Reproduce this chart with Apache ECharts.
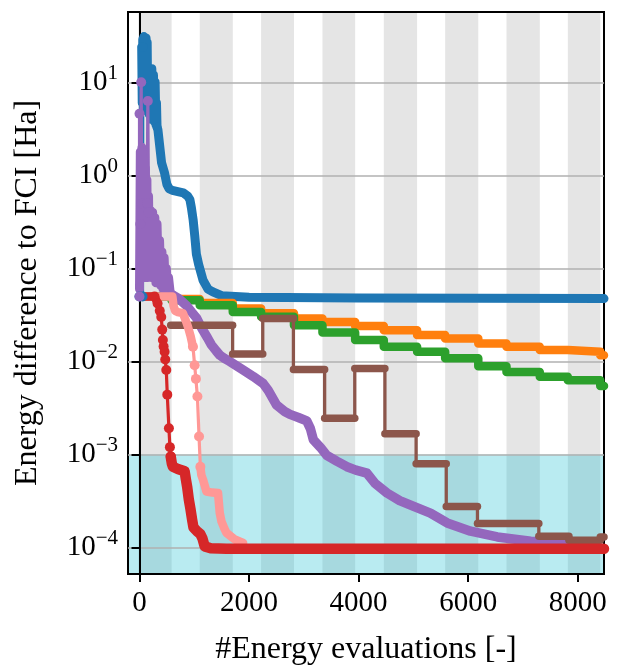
<!DOCTYPE html>
<html>
<head>
<meta charset="utf-8">
<script src="https://cdn.jsdelivr.net/npm/echarts@6/dist/echarts.min.js"></script>
<style>
  html, body { margin: 0; padding: 0; background: #fff; }
  #chart { width: 617px; height: 666px; }
</style>
</head>
<body>
<div id="chart"></div>
<script>
// axis ticks
const xTicks = [0, 2000, 4000, 6000, 8000];
const yTicks = [1e-4, 1e-3, 1e-2, 1e-1, 1, 10];
const threshold = 1e-3;

// gray stripes
const bandStarts = [-20, 1100, 2220, 3340, 4460, 5580, 6700, 7820];
const bandEnds = [586, 1703, 2820, 3937, 5068, 6185, 7308, 8412];

// blue run
const blueRise = [[0, 0.05], [55, 0.05], [60, 24]];
const blueBurst = [[40, 24], [50, 6], [60, 29], [70, 5], [80, 31], [90, 7], [100, 28], [110, 5], [120, 30],
  [130, 6], [140, 27], [150, 5], [165, 14], [180, 4.5], [195, 13], [210, 4], [225, 14], [240, 4], [255, 12],
  [270, 3.8], [285, 10], [300, 3.5], [310, 6], [320, 3.3]];
const blueTail = [[320, 3.3], [336, 3.1], [403, 1.37], [458, 1.06], [500, 0.8], [540, 0.72], [600, 0.69],
  [700, 0.67], [800, 0.65], [880, 0.6], [920, 0.55], [947, 0.45], [980, 0.33], [1010, 0.22], [1038, 0.143],
  [1080, 0.11], [1160, 0.0745], [1250, 0.06], [1340, 0.056], [1500, 0.051], [2000, 0.049], [4000, 0.048],
  [8480, 0.0474]];

// orange / green staircases (level i holds between edge i and edge i+1)
const stepEdges = [0, 586, 1100, 1703, 2220, 2820, 3340, 3937, 4460, 5068, 5580, 6185, 6700, 7308, 7820, 8412, 8480];
const orangeLevels = [0.05, 0.047, 0.0426, 0.037, 0.033, 0.029, 0.0265, 0.024, 0.0217, 0.0192, 0.0177,
  0.0156, 0.0144, 0.0133, 0.0127, 0.0117];
const greenLevels = [0.05, 0.0455, 0.0403, 0.0341, 0.0302, 0.0245, 0.0205, 0.017, 0.0144, 0.0127, 0.0108,
  0.0089, 0.0077, 0.00686, 0.0063, 0.00544];

// purple run
const purpleSpikes = [[0, 0.05], [0, 4.6], [15, 0.3], [31, 10], [40, 0.5], [140, 0.5], [152, 6.3], [165, 0.4]];
const purpleBlob = [[0, 0.06], [15, 1.8], [30, 0.08], [45, 2], [60, 0.1], [75, 1.5], [90, 0.08], [105, 1.2],
  [120, 0.1], [135, 0.9], [150, 0.08], [165, 0.6], [180, 0.1], [200, 0.42], [220, 0.08], [240, 0.4], [260, 0.08],
  [280, 0.35], [300, 0.07], [320, 0.3], [345, 0.07], [366, 0.2], [390, 0.065], [410, 0.15], [430, 0.06],
  [450, 0.13], [470, 0.06], [490, 0.1], [510, 0.06], [530, 0.08], [560, 0.055], [600, 0.052]];
const purpleTail = [[600, 0.052], [700, 0.048], [760, 0.045], [855, 0.04], [950, 0.034],
  [1038, 0.0295], [1100, 0.025], [1160, 0.0216], [1240, 0.018], [1313, 0.0151], [1400, 0.013], [1465, 0.0117],
  [1550, 0.0108], [1648, 0.01], [1770, 0.009], [1892, 0.0081], [2075, 0.0069], [2258, 0.0058], [2350, 0.0049],
  [2503, 0.0034], [2650, 0.0029], [2747, 0.0027], [2900, 0.0025], [3053, 0.0023], [3120, 0.0019],
  [3174, 0.00144], [3300, 0.0012], [3419, 0.00098], [3600, 0.00085], [3786, 0.00074], [3950, 0.00068],
  [4152, 0.00063], [4300, 0.00049], [4518, 0.000386], [4750, 0.00032], [5006, 0.000277], [5311, 0.000235],
  [5617, 0.000184], [6044, 0.00015], [6533, 0.00013], [7143, 0.000117], [7753, 0.000112]];

// brown staircase
const brownEdges = [570, 1700, 2250, 2810, 3380, 3930, 4480, 5050, 5600, 6170, 7290, 7840, 8412, 8480];
const brownLevels = [0.0245, 0.012, 0.029, 0.0082, 0.00245, 0.00843, 0.00167, 0.000794, 0.000277,
  0.000181, 0.000132, 0.00012, 0.00013];

// pink run
const pinkHead = [[0, 0.05], [600, 0.05], [620, 0.04], [650, 0.035], [700, 0.034], [793, 0.033], [840, 0.028],
  [885, 0.0236], [930, 0.019], [976, 0.0144]];
const pinkDrop = [[976, 0.0144], [1007, 0.0091], [1030, 0.0065], [1057, 0.0042], [1087, 0.00156], [1111, 0.00074]];
const pinkTail = [[1111, 0.00074], [1130, 0.0006], [1160, 0.000535], [1222, 0.000401], [1330, 0.00039],
  [1434, 0.000385], [1465, 0.000236], [1496, 0.000191], [1550, 0.00016], [1588, 0.000144], [1740, 0.000122],
  [1892, 0.000112]];

// red run
const redHead = [[0, 0.05], [275, 0.05], [330, 0.042]];
const redDrop = [[275, 0.05], [330, 0.042], [370, 0.035], [397, 0.03], [415, 0.022], [427, 0.017], [440, 0.0145],
  [458, 0.0127], [470, 0.0105], [489, 0.0081], [507, 0.0044], [537, 0.00192], [555, 0.0012], [570, 0.00095]];
const redTail = [[570, 0.00095], [590, 0.0008], [610, 0.00074], [700, 0.0007], [824, 0.00066], [845, 0.00055],
  [870, 0.00045], [900, 0.00033], [930, 0.00026], [960, 0.0002], [985, 0.000165], [1050, 0.00015],
  [1110, 0.00014], [1150, 0.000125], [1190, 0.000103], [1300, 0.0000985], [1588, 0.000097], [8480, 0.000097]];

const C = {
  blue: '#1f77b4', orange: '#ff7f0e', green: '#2ca02c', purple: '#9467bd',
  brown: '#8c564b', pink: '#ff9896', red: '#d62728'
};
const FONT = 'Liberation Serif';
const Y_MIN = 5.2e-5, Y_MAX = 57;

function stairs(edges, levels) {
  const pts = [];
  levels.forEach((v, i) => { pts.push([edges[i], v], [edges[i + 1], v]); });
  return pts;
}

// thick line = densely packed markers in the original
function thick(color, data, w) {
  return {
    type: 'line', data: data, symbol: 'none', silent: true, animation: false,
    lineStyle: { color: color, width: w, cap: 'round', join: 'round' }
  };
}

// thin line with visible markers
function dotted(color, data) {
  return {
    type: 'line', data: data, symbol: 'circle', symbolSize: 10, showSymbol: true,
    silent: true, animation: false,
    itemStyle: { color: color },
    lineStyle: { color: color, width: 3.2 }
  };
}

let series = [];

// background stripes and target region
series.push({
  type: 'line', data: [], silent: true,
  markArea: {
    silent: true, z: -3,
    itemStyle: { color: '#e5e5e5' },
    data: bandStarts.map((s, i) => [{ xAxis: s }, { xAxis: bandEnds[i] }])
  }
});
series.push({
  type: 'line', data: [], silent: true,
  markArea: {
    silent: true, z: -2,
    itemStyle: { color: 'rgba(23,190,207,0.3)' },
    data: [[{ yAxis: Y_MIN }, { yAxis: threshold }]]
  }
});

series.push(dotted(C.blue, blueRise));
series.push(thick(C.blue, blueBurst, 9));
series.push(thick(C.blue, blueTail, 9));
series.push(thick(C.orange, stairs(stepEdges, orangeLevels), 8.5));
series.push(thick(C.green, stairs(stepEdges, greenLevels), 8.5));
series.push(dotted(C.purple, purpleSpikes));
series.push(thick(C.purple, purpleBlob, 9));
series.push(thick(C.purple, purpleTail, 9.5));
series.push({
  type: 'line', data: stairs(brownEdges, brownLevels), symbol: 'none', silent: true, animation: false,
  lineStyle: { color: C.brown, width: 3.3 }
});
brownLevels.forEach((v, i) => {
  series.push(thick(C.brown, [[brownEdges[i], v], [brownEdges[i + 1], v]], 7.5));
});
series.push(thick(C.pink, pinkHead, 8.5));
series.push(dotted(C.pink, pinkDrop));
series.push(thick(C.pink, pinkTail, 8.5));
series.push(thick(C.red, redHead, 8.5));
series.push(dotted(C.red, redDrop));
series.push(thick(C.red, redTail, 10.5));

const chart = echarts.init(document.getElementById('chart'), null, { renderer: 'canvas' });

chart.setOption({
  animation: false,
  grid: {
    left: 128, right: 13, top: 12, bottom: 92,
    containLabel: false, outerBoundsMode: 'none',
    show: true, borderColor: '#000', borderWidth: 2, backgroundColor: 'transparent'
  },
  xAxis: {
    type: 'value', min: -210, max: 8480,
    name: '#Energy evaluations [-]',
    nameLocation: 'middle', nameGap: 60,
    nameTextStyle: { fontFamily: FONT, fontSize: 32, color: '#000' },
    axisLine: { show: true, onZero: false, lineStyle: { color: '#000', width: 2 } },
    axisTick: { show: true, length: 8, customValues: xTicks, lineStyle: { color: '#000', width: 2 } },
    axisLabel: {
      customValues: xTicks, margin: 15, fontFamily: FONT, fontSize: 29, color: '#000',
      formatter: function (v) { return String(v); }
    },
    splitLine: { show: false }
  },
  yAxis: {
    type: 'log', logBase: 10, min: Y_MIN, max: Y_MAX,
    name: 'Energy difference to FCI [Ha]',
    nameLocation: 'middle', nameGap: 84, nameRotate: 90,
    nameTextStyle: { fontFamily: FONT, fontSize: 32, color: '#000' },
    axisLine: { show: true, lineStyle: { color: '#000', width: 2 } },
    axisTick: { show: true, length: 8, customValues: yTicks, lineStyle: { color: '#000', width: 2 } },
    axisLabel: {
      customValues: yTicks, margin: 10,
      formatter: function (v) {
        const e = Math.round(Math.log10(v));
        return '{b|10}{s|' + (e < 0 ? '\u2212' : '') + Math.abs(e) + '}';
      },
      rich: {
        b: { fontFamily: FONT, fontSize: 29, lineHeight: 29, color: '#000' },
        s: { fontFamily: FONT, fontSize: 21, lineHeight: 21, color: '#000', padding: [0, 0, 18, 0] }
      }
    },
    splitLine: { show: true, lineStyle: { color: '#b0b0b0', width: 1.6 } }
  },
  series: series
});
</script>
</body>
</html>
